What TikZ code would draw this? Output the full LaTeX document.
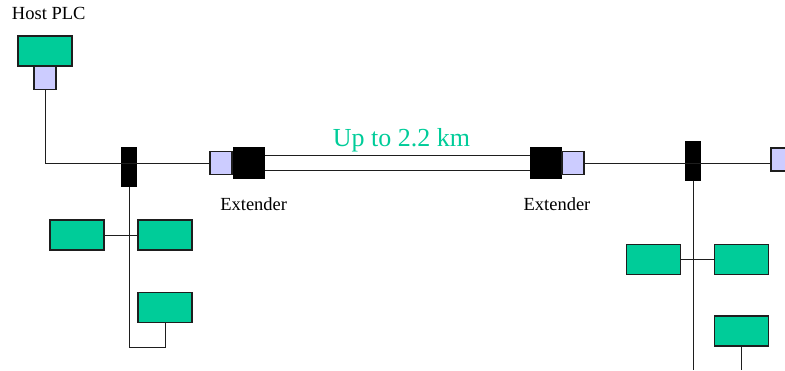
\documentclass[tikz,border=0pt]{standalone}
\usepackage{fontspec}
\setmainfont{Liberation Serif}
\definecolor{plcgreen}{RGB}{0,204,153}
\definecolor{lav}{RGB}{204,204,255}
\definecolor{edge}{RGB}{30,30,30}
\begin{document}
\begin{tikzpicture}[x=1pt,y=-1pt,
  every node/.style={inner sep=0pt,outer sep=0pt},
  gbox/.style={draw=edge,line width=1.2pt,fill=plcgreen,minimum width=54pt,minimum height=30pt},
  lbox/.style={draw=edge,line width=1.2pt,fill=lav,minimum width=22pt,minimum height=23pt},
  bar/.style={draw=black,fill=black,minimum width=15pt,minimum height=39pt},
  ext/.style={draw=black,fill=black,minimum width=31pt,minimum height=31pt},
  wire/.style={draw=edge,line width=1pt},
  lbl/.style={font=\fontsize{18.5}{20}\selectfont,anchor=base}]
\useasboundingbox (0,0) rectangle (785,370);
% top-left host
\node[lbl,anchor=base west] (hosttxt) at (12,19) {Host PLC};
\node[gbox] (host) at (45,51) {};
\node[lbox] (hostp) at (45,78) {};
% first bus
\node[bar] (bar1) at (129,167) {};
\node[lbox] (lav1) at (221,163) {};
\node[ext] (ext1) at (249,163) {};
\node[ext] (ext2) at (545.5,163) {};
\node[lbox] (lav2) at (573,163) {};
\node[bar] (bar2) at (693,161) {};
\node[lbox] (lav3) at (782,159.5) {};
% labels
\node[lbl] (e1) at (253.7,210) {Extender};
\node[lbl] (e2) at (557,210) {Extender};
\node[font=\fontsize{26}{28}\selectfont,text=plcgreen,anchor=base] (dist) at (401.5,146) {Up to 2.2 km};
% left devices
\node[gbox] (A) at (77,235) {};
\node[gbox] (B) at (165,235) {};
\node[gbox] (C) at (165,307.5) {};
\coordinate (lc) at (165,347);
% right devices
\node[gbox] (D) at (653.5,259.5) {};
\node[gbox] (E) at (741.5,259.5) {};
\node[gbox] (F) at (741.5,331) {};
\coordinate (bot2) at (693,370);
\coordinate (bot3) at (741.5,370);
% wires
\draw[wire] (hostp.south) |- (lav1.west);
\draw[wire] (bar1.south) |- (lc) -- (C.south);
\draw[wire] (A.east) -- (B.west);
\draw[wire] ([yshift=7.8pt]ext1.east) -- ([yshift=7.8pt]ext2.west);
\draw[wire] ([yshift=-7.8pt]ext1.east) -- ([yshift=-7.8pt]ext2.west);
\draw[wire] (lav2.east) -- (lav2.east -| lav3.west);
\draw[wire] (bar2.south) -- (bot2);
\draw[wire] (D.east) -- (E.west);
\draw[wire] (F.south) -- (bot3);
\end{tikzpicture}
\end{document}
